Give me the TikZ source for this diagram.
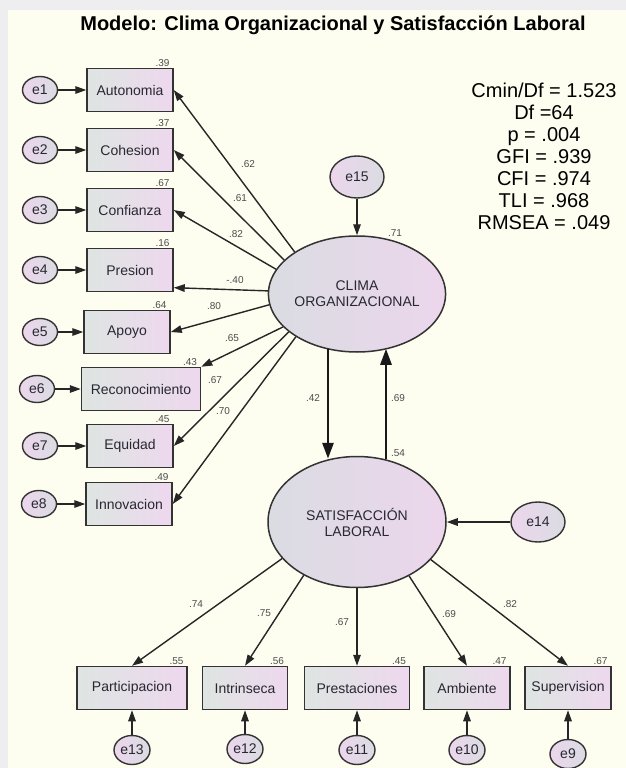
\documentclass[tikz,border=0pt]{standalone}
\usepackage{fontspec}
\setmainfont{Liberation Sans}
\usetikzlibrary{arrows.meta,shapes.geometric}
\definecolor{cream}{RGB}{253,253,240}
\definecolor{framegray}{RGB}{238,238,240}
\definecolor{boxleft}{RGB}{222,229,226}
\definecolor{boxright}{RGB}{238,216,238}
\definecolor{latleft}{RGB}{218,220,226}
\definecolor{latright}{RGB}{236,214,236}
\definecolor{inktext}{RGB}{40,40,50}
\tikzset{
  obs/.style={rectangle, draw=black!80, line width=1.5pt, left color=boxleft, right color=boxright,
              minimum height=43pt, inner sep=2pt, text=inktext, font=\fontsize{14}{16}\selectfont},
  latent/.style={ellipse, draw=black!80, line width=1.5pt, left color=latleft, right color=latright,
                 align=center, inner sep=0pt, text=inktext, font=\fontsize{14}{16}\selectfont},
  err/.style={ellipse, draw=black!80, line width=1.4pt, left color=latright, right color=latleft,
              inner sep=0pt, text=inktext, font=\fontsize{14}{16}\selectfont},
  coef/.style={inner sep=1pt, text=black!70, font=\fontsize{10}{11}\selectfont},
  flow/.style={-{Triangle[length=11pt,width=7.5pt]}, draw=black!85, line width=1.4pt},
  bigflow/.style={-{Triangle[length=16pt,width=11pt]}, draw=black!90, line width=2.8pt},
}

\begin{document}
\begin{tikzpicture}[x=1pt, y=-1pt]
  \useasboundingbox (0,0) rectangle (626,768);
  \fill[framegray] (0,0) rectangle (626,768);
  \fill[cream] (8,10) rectangle (626,768);
  \node[font=\bfseries\fontsize{20}{24}\selectfont] (title) at (333,25)
    {Modelo: Clima Organizacional y Satisfacción Laboral};
  \node[font=\fontsize{20}{22}\selectfont, align=center] (fit) at (544,156)
    {Cmin/Df = 1.523\\ Df =64\\ p = .004\\ GFI = .939\\ CFI = .974\\ TLI = .968\\ RMSEA = .049};

  % latent variables
  \node[latent, minimum width=164pt, minimum height=116pt] (clima) at (357,294) {CLIMA\\ORGANIZACIONAL};
  \node[latent, minimum width=178pt, minimum height=131pt] (sat) at (357,522) {SATISFACCIÓN\\LABORAL};
  \node[err, minimum width=54pt, minimum height=42pt] (e15) at (357,177) {e15};
  \node[err, minimum width=54pt, minimum height=40pt] (e14) at (538,522) {e14};
  \draw[flow] (e15) -- (clima);
  \draw[flow] (e14) -- (sat);
  \node[coef] (r71) at (395,233) {.71};
  \node[coef] (r54) at (398,453) {.54};

  \draw[bigflow] ([shift={(-29pt,4pt)}]clima.south) -- ([shift={(-29pt,-3pt)}]sat.north);
  \draw[bigflow] ([shift={(29pt,-3pt)}]sat.north) -- ([shift={(29pt,4pt)}]clima.south);
  \node[coef] (l42) at (313,398) {.42};
  \node[coef] (l69) at (398,398) {.69};

  % clima indicators
  \foreach \i/\name/\x/\y/\w/\ex/\rsq/\lam/\st/\anc/\lx/\ly in {
    1/Autonomia/130/90/86/40/.39/.62/146/east/248/164,
    2/Cohesion/130/150/86/40/.37/.61/155/east/240/198,
    3/Confianza/130/210/86/40/.67/.82/163/east/236/234,
    4/Presion/130/270/86/40/.16/-.40/178/-22/235/280,
    5/Apoyo/127/332/86/40/.64/.80/187/east/214/306,
    6/Reconocimiento/141/389/119/37/.43/.65/204/north east/232/338,
    7/Equidad/130/446/86/40/.45/.67/209/east/215/380,
    8/Innovacion/129/504/86/39/.49/.70/215/east/223/411}
  {
    \node[obs, minimum width=\w pt, label={[coef, anchor=south east, xshift=-3pt]north east:\rsq}] (v\i) at (\x,\y) {\name};
    \node[err, minimum width=35pt, minimum height=27pt] (e\i) at (\ex,\y) {e\i};
    \draw[flow] (e\i) -- (v\i);
    \draw[flow] (clima.\st) -- (v\i.\anc);
    \node[coef] (l\i) at (\lx,\ly) {\lam};
  }

  % satisfaccion indicators
  \foreach \i/\name/\x/\w/\ey/\rsq/\lam/\st/\lx/\ly in {
    9/Supervision/568/86/754/.67/.82/333/510/604,
    10/Ambiente/467/86/750/.47/.69/314/449/614,
    11/Prestaciones/357/105/750/.45/.67/270/342/622,
    12/Intrinseca/245/85/749/.56/.75/225/264/613,
    13/Participacion/132/110/750/.55/.74/206/196/604}
  {
    \node[obs, minimum width=\w pt, label={[coef, anchor=south east, xshift=-3pt]north east:\rsq}] (v\i) at (\x,688) {\name};
    \node[err, minimum width=36pt, minimum height=29pt] (e\i) at (\x,\ey) {e\i};
    \draw[flow] (e\i) -- (v\i);
    \draw[flow] (sat.\st) -- (v\i.north);
    \node[coef] (l\i) at (\lx,\ly) {\lam};
  }
\end{tikzpicture}
\end{document}
